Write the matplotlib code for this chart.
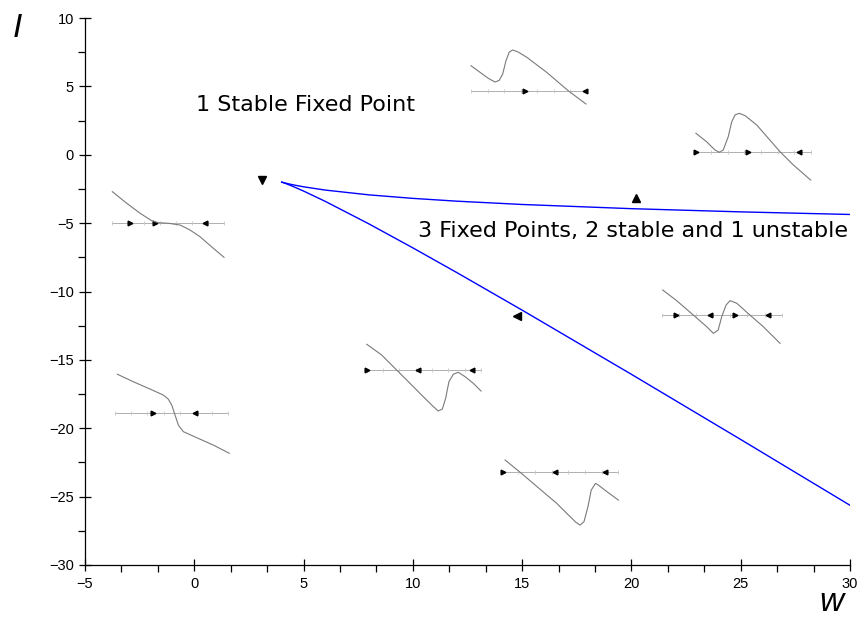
import matplotlib
matplotlib.use("Agg")
import matplotlib.pyplot as plt
from matplotlib.ticker import MultipleLocator

# saddle-node (fold) curves in the (w, I) plane, meeting at the cusp (4, -2)
W_FOLD = [4.0, 4.1, 4.2, 4.5, 5, 6, 8, 10, 12, 15, 20, 25, 30]
I_UPPER = [-2.0, -2.045, -2.085, -2.193, -2.344, -2.585, -2.935, -3.19, -3.394,
           -3.636, -3.943, -4.177, -4.367]
I_LOWER = [-2.0, -2.055, -2.115, -2.307, -2.656, -3.415, -5.065, -6.81, -8.606,
           -11.363, -16.057, -20.822, -25.633]

# direction markers on the fold curves
FOLD_ARROWS = [(3.1, -1.85, "v"), (20.2, -3.16, "^"), (14.76, -11.8, "<")]

# little phase-portrait sketches: curve points, phase-line level/extent, arrows
SKETCHES = [
    dict(w=[12.66, 13.07, 13.45, 13.76, 13.95, 14.11, 14.26, 14.41, 14.57, 14.82,
            15.21, 16.12, 17.11, 17.92],
         i=[6.51, 6.03, 5.59, 5.32, 5.44, 5.90, 6.88, 7.51, 7.66, 7.51, 7.13, 6.03,
            4.68, 3.71],
         line=(4.68, 12.66, 17.95),
         arrows=[(15.13, ">"), (17.88, "<")]),
    dict(w=[22.95, 23.44, 23.82, 24.02, 24.20, 24.43, 24.59, 24.74, 24.93, 25.20,
            25.73, 26.80, 27.41, 28.20],
         i=[1.57, 0.95, 0.35, 0.18, 0.35, 1.32, 2.42, 2.91, 3.03, 2.86, 2.18, 0.22,
            -0.75, -1.85],
         line=(0.18, 22.9, 28.2),
         arrows=[(22.95, ">"), (25.35, ">"), (27.65, "<")]),
    dict(w=[-3.75, -3.09, -2.48, -1.95, -1.65, -1.19, -0.65, -0.20, 0.26, 0.87, 1.36],
         i=[-2.70, -3.55, -4.28, -4.82, -4.97, -5.01, -5.14, -5.50, -5.99, -6.84, -7.50],
         line=(-5.01, -3.75, 1.36),
         arrows=[(-2.94, ">"), (-1.80, ">"), (0.49, "<")]),
    dict(w=[-3.52, -2.79, -2.03, -1.42, -1.19, -1.03, -0.88, -0.73, -0.50, 0.11,
            0.87, 1.60],
         i=[-16.05, -16.60, -17.13, -17.57, -17.87, -18.31, -19.04, -19.77, -20.25,
            -20.69, -21.23, -21.83],
         line=(-18.86, -3.63, 1.56),
         arrows=[(-1.90, ">"), (0.03, "<")]),
    dict(w=[7.89, 8.57, 9.18, 9.79, 10.40, 10.86, 11.16, 11.35, 11.50, 11.65, 11.85,
            12.08, 12.39, 12.76, 13.12],
         i=[-13.86, -14.64, -15.62, -16.59, -17.57, -18.30, -18.74, -18.59, -17.81,
            -16.60, -16.05, -15.91, -16.23, -16.71, -17.28],
         line=(-15.74, 7.89, 13.12),
         arrows=[(7.89, ">"), (10.25, "<"), (12.70, "<")]),
    dict(w=[21.43, 22.07, 22.83, 23.44, 23.75, 23.97, 24.13, 24.33, 24.51, 24.82,
            25.42, 26.03, 26.80],
         i=[-9.89, -10.67, -11.72, -12.57, -13.06, -12.82, -11.84, -10.99, -10.67,
            -10.86, -11.72, -12.57, -13.79],
         line=(-11.72, 21.38, 26.88),
         arrows=[(22.04, ">"), (23.59, "<"), (24.74, ">"), (26.26, "<")]),
    dict(w=[14.22, 15.05, 15.82, 16.58, 17.19, 17.46, 17.65, 17.83, 18.01, 18.16,
            18.36, 18.48, 18.94, 19.40],
         i=[-22.32, -23.41, -24.46, -25.49, -26.46, -26.88, -27.08, -26.83, -25.74,
            -24.52, -24.03, -24.15, -24.71, -25.25],
         line=(-23.22, 14.06, 19.40),
         arrows=[(14.14, ">"), (16.51, "<"), (18.80, "<")]),
]

fig = plt.figure(figsize=(8.64, 6.25), dpi=100)
ax = fig.add_axes([0.0984, 0.096, 0.8854, 0.8752])

ax.plot(W_FOLD, I_UPPER, color="#0000ff", linewidth=1.0)
ax.plot(W_FOLD, I_LOWER, color="#0000ff", linewidth=1.0)
for w, i, m in FOLD_ARROWS:
    ax.plot(w, i, marker=m, color="black", markersize=6, linestyle="none")

for sk in SKETCHES:
    lvl, x0, x1 = sk["line"]
    ax.plot([x0, x1], [lvl, lvl], color="#b0b0b0", linewidth=0.7)
    n = 8
    step = (x1 - x0) / (n - 1)
    ax.plot([x0 + k * step for k in range(n)], [lvl] * n, marker="|",
            color="#c8c8c8", markersize=3, linestyle="none", markeredgewidth=0.6)
    for aw, am in sk["arrows"]:
        ax.plot(aw, lvl, marker=am, color="black", markersize=3.4, linestyle="none")
    ax.plot(sk["w"], sk["i"], color="#7a7a7a", linewidth=0.8)

ax.text(0.1, 3.64, "1 Stable Fixed Point", fontsize=16, va="center",
        family="DejaVu Sans")
ax.text(10.25, -5.6, "3 Fixed Points, 2 stable and 1 unstable", fontsize=16,
        va="center", family="DejaVu Sans")

ax.set_xlim(-5, 30)
ax.set_ylim(-30, 10)
ax.xaxis.set_major_locator(MultipleLocator(5))
ax.xaxis.set_minor_locator(MultipleLocator(5 / 3))
ax.yaxis.set_major_locator(MultipleLocator(5))
ax.yaxis.set_minor_locator(MultipleLocator(2.5))
for s in ("top", "right"):
    ax.spines[s].set_visible(False)
for s in ("left", "bottom"):
    ax.spines[s].set_linewidth(0.9)
ax.tick_params(which="major", direction="inout", length=9, width=0.9,
               labelsize=10.5)
ax.tick_params(which="minor", direction="out", length=5, width=0.9)
ax.tick_params(axis="x", which="major", pad=4)
for lab in ax.get_xticklabels() + ax.get_yticklabels():
    lab.set_family("Liberation Sans")

fig.text(0.02, 0.955, "I", fontsize=24, style="italic", ha="center", va="center",
         family="Liberation Sans")
fig.text(0.962, 0.036, "w", fontsize=24, style="italic", ha="center", va="center",
         family="Liberation Sans")

fig.savefig("out.png", dpi=100)
